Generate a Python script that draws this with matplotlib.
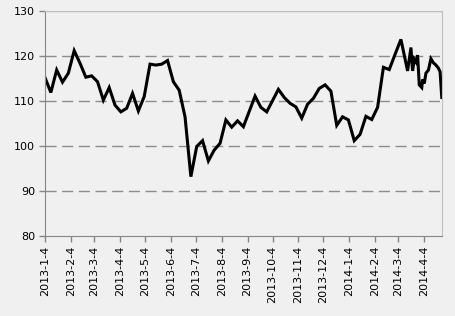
import pandas as pd
import matplotlib
matplotlib.use("Agg")
import matplotlib.pyplot as plt
import matplotlib.dates as mdates

dates = [
    "2013-01-04", "2013-01-11", "2013-01-18", "2013-01-25", "2013-02-01", "2013-02-08",
    "2013-02-15", "2013-02-22", "2013-03-01", "2013-03-08", "2013-03-15", "2013-03-22",
    "2013-03-29", "2013-04-05", "2013-04-12", "2013-04-19", "2013-04-26", "2013-05-03",
    "2013-05-10", "2013-05-17", "2013-05-24", "2013-05-31", "2013-06-07", "2013-06-14",
    "2013-06-21", "2013-06-28", "2013-07-05", "2013-07-12", "2013-07-19", "2013-07-26",
    "2013-08-02", "2013-08-09", "2013-08-16", "2013-08-23", "2013-08-30", "2013-09-13",
    "2013-09-20", "2013-09-27", "2013-10-11", "2013-10-18", "2013-10-25", "2013-11-01",
    "2013-11-08", "2013-11-15", "2013-11-22", "2013-11-29", "2013-12-06", "2013-12-13",
    "2013-12-20", "2013-12-27", "2014-01-03", "2014-01-10", "2014-01-17", "2014-01-24",
    "2014-01-31", "2014-02-07", "2014-02-14", "2014-02-21", "2014-02-28", "2014-03-07",
    "2014-03-15", "2014-03-19", "2014-03-21", "2014-03-23", "2014-03-25", "2014-03-27",
    "2014-03-29", "2014-04-01", "2014-04-02", "2014-04-04", "2014-04-06", "2014-04-09",
    "2014-04-12", "2014-04-15", "2014-04-18", "2014-04-21", "2014-04-23", "2014-04-25",
]
values = [
    115.2, 111.9, 116.9, 114.2, 116.2, 121.2,
    118.4, 115.3, 115.6, 114.3, 110.2, 113.0,
    109.1, 107.6, 108.4, 111.7, 107.8, 111.0,
    118.2, 118.0, 118.2, 119.0, 114.3, 112.4,
    106.5, 93.2, 99.9, 101.2, 96.7, 99.1,
    100.6, 105.8, 104.2, 105.6, 104.3, 111.1,
    108.6, 107.6, 112.6, 110.8, 109.5, 108.7,
    106.2, 109.3, 110.6, 112.8, 113.6, 112.2,
    104.6, 106.5, 105.8, 101.2, 102.6, 106.6,
    105.9, 108.6, 117.5, 117.0, 120.4, 123.7,
    116.7, 121.9, 116.7, 119.3, 118.7, 120.2,
    113.6, 113.0, 114.8, 113.9, 116.2, 116.9,
    119.4, 118.5, 118.0, 117.3, 116.5, 110.8,
]
yticks = [80, 90, 100, 110, 120, 130]

x = pd.to_datetime(dates)
bg = "#f0f0f0"

fig = plt.figure(figsize=(4.56, 3.16), dpi=100, facecolor=bg)
ax = fig.add_axes([0.0987, 0.253, 0.871, 0.712], facecolor=bg)

ax.plot(x, values, color="black", lw=2.2, solid_joinstyle="miter")

ax.set_ylim(80, 130)
ax.set_yticks(yticks)
ax.set_xlim(x[0], x[-1] + pd.Timedelta(hours=12))

ax.xaxis.set_major_locator(mdates.MonthLocator(bymonthday=4))
ax.xaxis.set_major_formatter(plt.FuncFormatter(
    lambda v, pos: (lambda d: f"{d.year}-{d.month}-{d.day}")(mdates.num2date(v))))

for yv in yticks[1:-1]:
    ax.axhline(yv, color="#8c8c8c", lw=1, ls=(0, (8, 4)), zorder=0)
ax.axhline(130, color="#c0c0c0", lw=1, zorder=0)

for s in ["left", "bottom"]:
    ax.spines[s].set_color("#868686")
for s in ["top", "right"]:
    ax.spines[s].set_color("#bfbfbf")

ax.tick_params(axis="both", direction="out", length=4, color="#868686",
               labelsize=8, labelcolor="black", width=1)
ax.tick_params(axis="x", labelrotation=90, pad=3)
ax.tick_params(axis="y", pad=3)

fig.savefig("out.png", dpi=100, facecolor=bg)
